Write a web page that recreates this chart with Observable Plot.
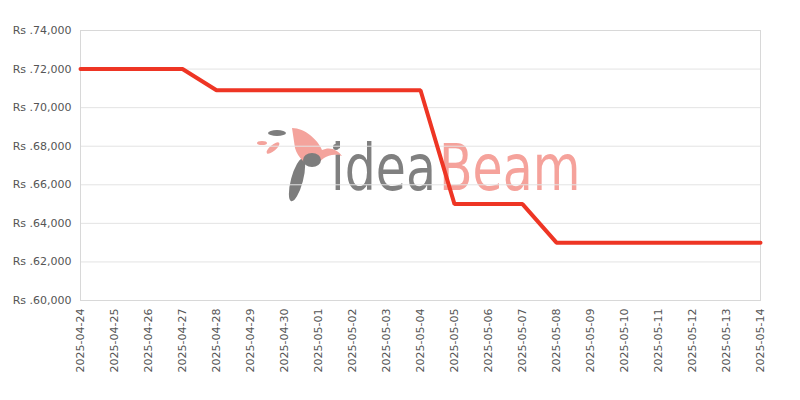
<!DOCTYPE html>
<html>
<head>
<meta charset="utf-8">
<script src="https://cdn.jsdelivr.net/npm/d3@7"></script>
<script src="https://cdn.jsdelivr.net/npm/@observablehq/plot@0.6"></script>
<style>
  html, body { margin: 0; padding: 0; background: #fff; }
  #chart { width: 800px; height: 400px; }
</style>
</head>
<body>
<div id="chart"></div>
<script>
const dates = ["2025-04-24","2025-04-25","2025-04-26","2025-04-27","2025-04-28","2025-04-29","2025-04-30",
  "2025-05-01","2025-05-02","2025-05-03","2025-05-04","2025-05-05","2025-05-06","2025-05-07",
  "2025-05-08","2025-05-09","2025-05-10","2025-05-11","2025-05-12","2025-05-13","2025-05-14"];
const prices = [72000,72000,72000,72000,70900,70900,70900,
  70900,70900,70900,70900,65000,65000,65000,
  63000,63000,63000,63000,63000,63000,63000];
const yTicks = [60000,62000,64000,66000,68000,70000,72000,74000];

const parse = d3.utcParse("%Y-%m-%d");
const data = dates.map((d, i) => ({date: parse(d), price: prices[i]}));
const fmtY = d => "Rs ." + d3.format(",")(d);

const plot = Plot.plot({
  width: 800,
  height: 400,
  marginLeft: 80,
  marginRight: 40,
  marginTop: 30,
  marginBottom: 100,
  style: {fontFamily: "DejaVu Sans", fontSize: "11px", color: "#555", background: "#fff"},
  x: {type: "utc", domain: [parse(dates[0]), parse(dates[dates.length - 1])]},
  y: {domain: [60000, 74000]},
  marks: [
    Plot.gridY(yTicks, {stroke: "#e3e3e3", strokeOpacity: 1}),
    Plot.frame({stroke: "#d8d8d8", strokeOpacity: 1}),
    Plot.axisY(yTicks, {tickSize: 0, tickPadding: 9, tickFormat: fmtY, label: null, fill: "#555"}),
    Plot.axisX(dates.map(parse), {tickSize: 0, tickPadding: 8, tickRotate: -90, tickFormat: d3.utcFormat("%Y-%m-%d"), label: null, fill: "#555"}),
    Plot.line(data, {x: "date", y: "price", stroke: "#ee3524", strokeWidth: 4, strokeLinejoin: "miter"})
  ]
});
document.getElementById("chart").appendChild(plot);

// watermark behind the grid
const svg = d3.select(plot);
const wm = svg.insert("g", "g").attr("pointer-events", "none");
// simple bird
wm.append("ellipse").attr("cx", 297).attr("cy", 180).attr("rx", 6).attr("ry", 22)
  .attr("transform", "rotate(15 297 180)").attr("fill", "#7d7d7d");
wm.append("path").attr("d", "M292,128 C305,128 318,140 322,150 C330,146 338,150 342,156 C330,152 322,158 316,166 C306,166 298,158 295,148 Z")
  .attr("fill", "#f4a39c");
wm.append("ellipse").attr("cx", 312).attr("cy", 160).attr("rx", 9).attr("ry", 7).attr("fill", "#7d7d7d");
wm.append("ellipse").attr("cx", 277).attr("cy", 133).attr("rx", 9).attr("ry", 3).attr("fill", "#7d7d7d");
wm.append("ellipse").attr("cx", 273).attr("cy", 148).attr("rx", 8).attr("ry", 3)
  .attr("transform", "rotate(-40 273 148)").attr("fill", "#f4a39c");
wm.append("ellipse").attr("cx", 262).attr("cy", 143).attr("rx", 5).attr("ry", 2).attr("fill", "#f4a39c");
wm.append("circle").attr("cx", 336).attr("cy", 147).attr("r", 3).attr("fill", "#7d7d7d");
const wmText = wm.append("g").attr("transform", "translate(0,190) scale(1,1.3)")
  .attr("font-family", "'DejaVu Sans', sans-serif").attr("font-size", 49);
wmText.append("text").attr("x", 436).attr("y", 0).attr("text-anchor", "end")
  .attr("fill", "#808080").text("idea");
wmText.append("text").attr("x", 439).attr("y", 0).attr("text-anchor", "start")
  .attr("fill", "#f5a29b").text("Beam");
</script>
</body>
</html>
